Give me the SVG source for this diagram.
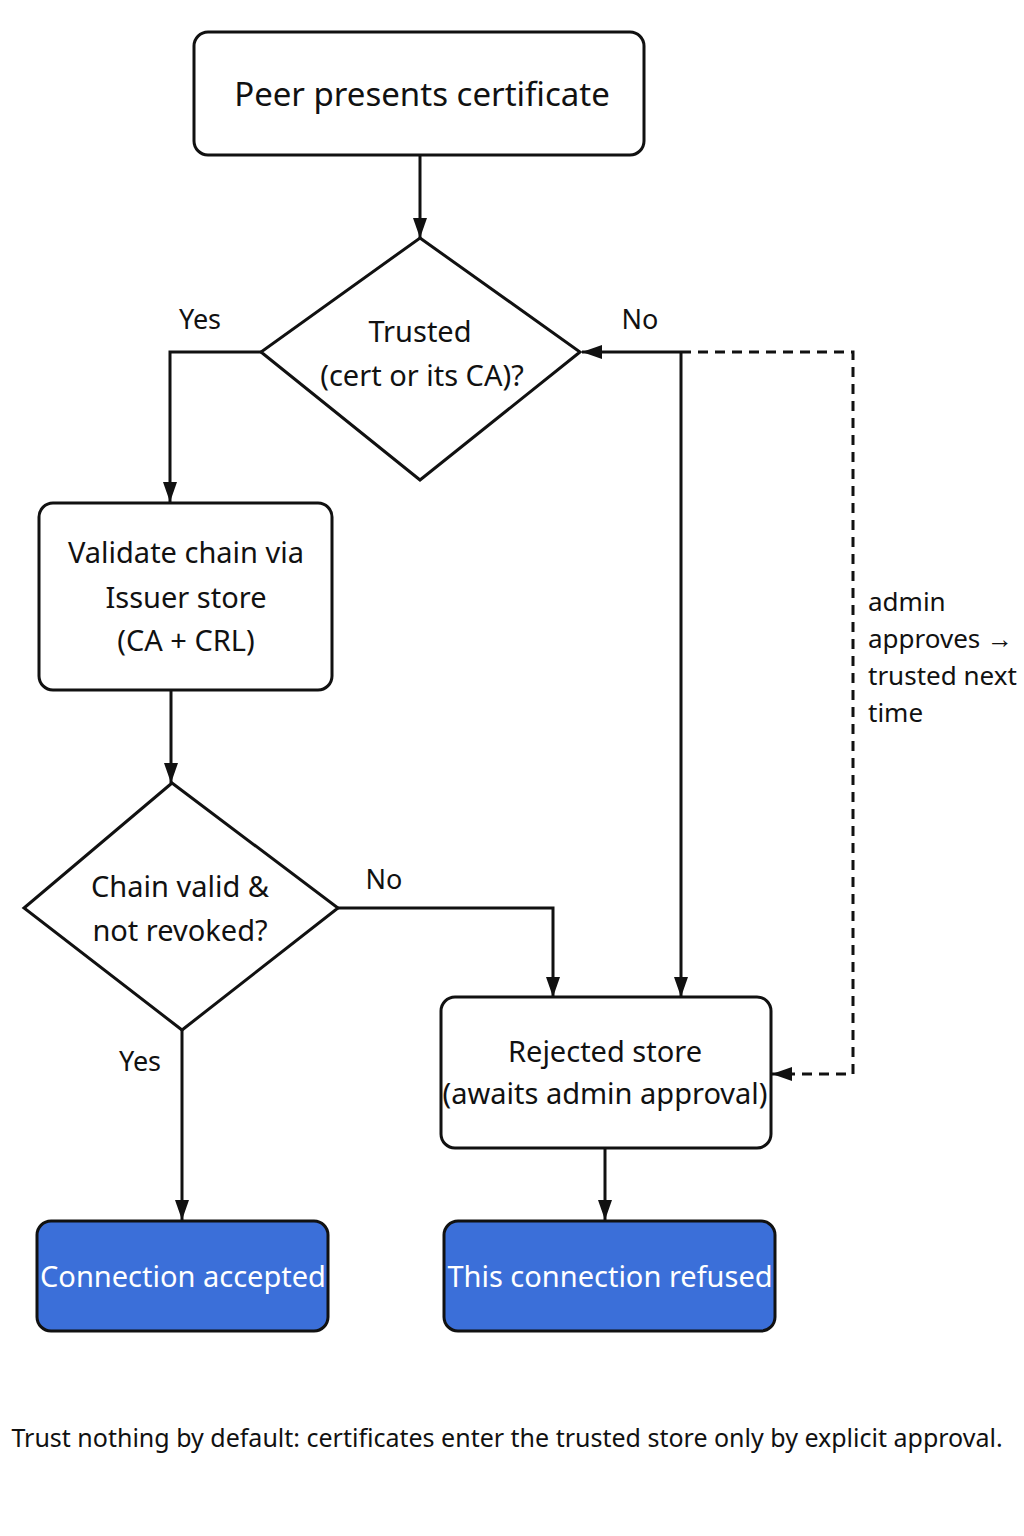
<svg xmlns="http://www.w3.org/2000/svg" width="1024" height="1536" viewBox="0 0 1024 1536">
<defs>
<style>
text{font-family:"Noto Sans","Liberation Sans",sans-serif;fill:#111;text-anchor:middle}
.n{fill:#fff;stroke:#111;stroke-width:3}
.b{fill:#3b6fd9;stroke:#111;stroke-width:3}
.w{fill:#fff}
.c{fill:none;stroke:#111;stroke-width:3}
.d{stroke-dasharray:10 7}
</style>
<marker id="a" viewBox="0 0 10 10" refX="10" refY="5" markerWidth="6" markerHeight="6" orient="auto-start-reverse" markerUnits="userSpaceOnUse"><path d="M0,0L10,5L0,10z" fill="#111" transform="scale(1)"/></marker>
<marker id="A" viewBox="0 0 20 20" refX="20" refY="10" markerWidth="20" markerHeight="20" orient="auto-start-reverse" markerUnits="userSpaceOnUse"><path d="M0,3L20,10L0,17z" fill="#111"/></marker>
</defs>
<g id="connectors">
<path class="c" d="M420,155V238" marker-end="url(#A)"/>
<path class="c" d="M261,352H170V502" marker-end="url(#A)"/>
<path class="c" d="M681,352V997" marker-end="url(#A)"/>
<path class="c" d="M681,352H582" marker-end="url(#A)"/>
<path class="c d" d="M681,352H853V1074H772" marker-end="url(#A)"/>
<path class="c" d="M171,690V783" marker-end="url(#A)"/>
<path class="c" d="M338,908H553V997" marker-end="url(#A)"/>
<path class="c" d="M182,1030V1220" marker-end="url(#A)"/>
<path class="c" d="M605,1148V1220" marker-end="url(#A)"/>
<g font-size="27">
<text x="200" y="329">Yes</text>
<text x="640" y="329">No</text>
<text x="384" y="889">No</text>
<text x="140" y="1071">Yes</text>
</g>
<g font-size="26" style="text-anchor:start">
<text x="868" y="611" style="text-anchor:start">admin</text>
<text x="868" y="648" style="text-anchor:start">approves →</text>
<text x="868" y="685" style="text-anchor:start">trusted next</text>
<text x="868" y="722" style="text-anchor:start">time</text>
</g>
</g>
<g id="start"><rect class="n" x="194" y="32" width="450" height="123" rx="14"/><text x="422" y="106" font-size="33">Peer presents certificate</text></g>
<g id="trusted"><path class="n" d="M420,238L580,352L420,480L261,352Z"/><text x="420" y="342" font-size="29">Trusted</text><text x="422" y="386" font-size="29">(cert or its CA)?</text></g>
<g id="validate"><rect class="n" x="39" y="503" width="293" height="187" rx="14"/><text x="186" y="563" font-size="29">Validate chain via</text><text x="186" y="608" font-size="29">Issuer store</text><text x="186" y="651" font-size="29">(CA + CRL)</text></g>
<g id="chain"><path class="n" d="M172,783L338,908L182,1030L24,908Z"/><text x="180" y="897" font-size="29">Chain valid &amp;</text><text x="180" y="941" font-size="29">not revoked?</text></g>
<g id="rejected"><rect class="n" x="441" y="997" width="330" height="151" rx="14"/><text x="605" y="1062" font-size="29">Rejected store</text><text x="605" y="1104" font-size="29">(awaits admin approval)</text></g>
<g id="accepted"><rect class="b" x="37" y="1221" width="291" height="110" rx="14"/><text class="w" x="183" y="1287" font-size="29">Connection accepted</text></g>
<g id="refused"><rect class="b" x="444" y="1221" width="331" height="110" rx="14"/><text class="w" x="610" y="1287" font-size="29">This connection refused</text></g>
<text x="507" y="1447" font-size="25">Trust nothing by default: certificates enter the trusted store only by explicit approval.</text>
</svg>
